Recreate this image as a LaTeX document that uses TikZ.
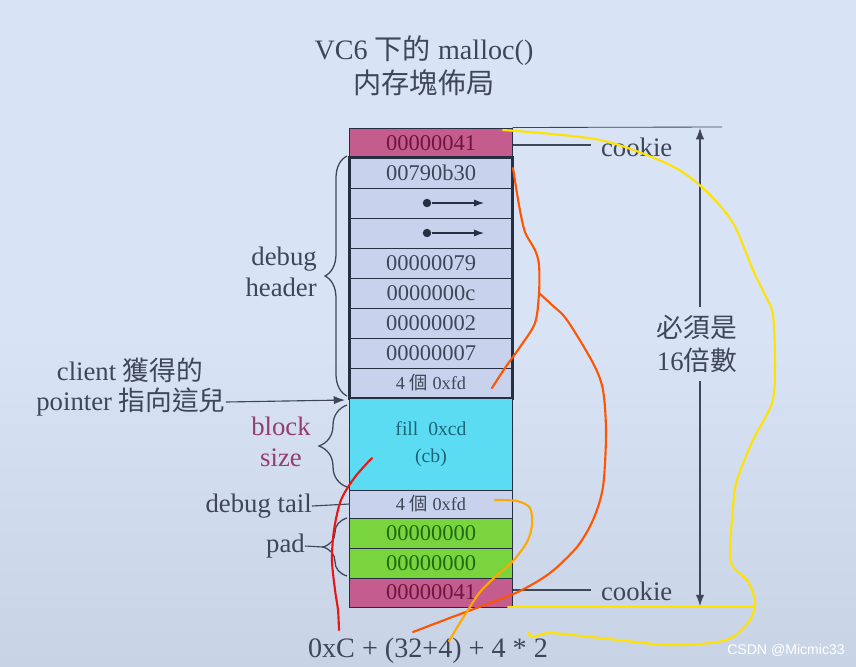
\documentclass[tikz,border=0pt]{standalone}
\usepackage{fontspec}
\setmainfont{Liberation Serif}
\newfontfamily\cjk{Noto Sans CJK TC}
\newfontfamily\wmfont{Liberation Sans}
\usetikzlibrary{positioning, arrows.meta, decorations.pathreplacing, calc}

\definecolor{bgtop}{RGB}{216,228,245}
\definecolor{bgbot}{RGB}{200,212,230}
\definecolor{txtgrey}{RGB}{62,70,88}
\definecolor{cellline}{RGB}{38,46,66}
\definecolor{hdrfill}{RGB}{200,210,236}
\definecolor{cookiefill}{RGB}{196,92,142}
\definecolor{cookietxt}{RGB}{110,22,62}
\definecolor{cyanfill}{RGB}{92,220,242}
\definecolor{cyantxt}{RGB}{30,100,120}
\definecolor{padfill}{RGB}{122,212,62}
\definecolor{padtxt}{RGB}{28,108,22}
\definecolor{blockpink}{RGB}{150,60,110}
\definecolor{penyellow}{RGB}{255,226,0}
\definecolor{penred}{RGB}{232,22,22}
\definecolor{penorange}{RGB}{255,168,0}
\definecolor{penorangered}{RGB}{255,84,0}

\newcommand{\zh}[1]{{\cjk #1}}

\begin{document}
\begin{tikzpicture}[x=0.025cm, y=-0.025cm]
	\tikzset{
		cell/.style={draw=cellline, line width=0.7pt, minimum width=4.05cm, minimum height=0.75cm, inner sep=0pt, text=txtgrey, font=\fontsize{16}{18}\selectfont},
		lbl/.style={text=txtgrey, inner sep=0pt, font=\fontsize{19}{22}\selectfont},
		curly/.style={decorate, decoration={brace, amplitude=#1}, draw=txtgrey, line width=0.9pt},
		guide/.style={draw=txtgrey, line width=0.8pt},
		dot/.style={circle, fill=cellline, inner sep=0pt, minimum size=6pt},
		pen/.style={line width=1.5pt, line cap=round, line join=round}
	}
	% 背景
	\fill[top color=bgtop, bottom color=bgbot, middle color=bgtop] (0,0) rectangle (856,666);
	\useasboundingbox (0,0) rectangle (856,666);

	% 標題
	\node[lbl, font=\fontsize{20}{24}\selectfont, align=center] (title) at (424,66) {VC6 \zh{下的} malloc()\\\zh{内存塊佈局}};

	% 內存塊
	\node[cell, fill=cookiefill, text=cookietxt] (ck1) at (431,143) {00000041};
	\foreach \y/\t/\n in {173/00790b30/h1, 203//h2, 233//h3, 263/00000079/h4, 293/0000000c/h5, 323/00000002/h6, 353/00000007/h7} {
		\node[cell, fill=hdrfill] (\n) at (431,\y) {\t};
	}
	\node[cell, fill=hdrfill, font=\fontsize{13}{15}\selectfont] (h8) at (431,383) {4 \zh{個} 0xfd};
	\draw[cellline, line width=1.6pt] (h1.north west) rectangle (h8.south east);
	\node[cell, fill=cyanfill, text=cyantxt, minimum height=2.3cm, align=center, font=\fontsize{14}{19}\selectfont] (body) at (431,444) {fill\ \ 0xcd\\(cb)};
	\node[cell, fill=hdrfill, minimum height=0.7cm, font=\fontsize{13}{15}\selectfont] (tail) at (431,504) {4 \zh{個} 0xfd};
	\node[cell, fill=padfill, text=padtxt] (pad1) at (431,533) {00000000};
	\node[cell, fill=padfill, text=padtxt] (pad2) at (431,563) {00000000};
	\node[cell, fill=cookiefill, text=cookietxt, minimum height=0.725cm] (ck2) at (431,592.5) {00000041};

	% 指標
	\foreach \n/\y in {2/203, 3/233} {
		\node[dot] (d\n) at (427,\y) {};
		\coordinate (e\n) at (484,\y);
		\draw[cellline, line width=0.8pt, -{Latex[length=7pt, width=5pt]}] (d\n) -- (e\n);
	}

	% 左側
	\node[lbl, align=right, anchor=east] (dbg) at (317,272) {debug\\header};
	\draw[curly=0.55cm] (347,396) -- (347,156);
	\node[lbl] (cl) at (130,370) {client \zh{獲得的}};
	\node[lbl] (ptr) at (131,402) {pointer \zh{指向這兒}};
	\coordinate (ptrtip) at (345,400);
	\draw[guide, -{Latex[length=8pt, width=6pt]}] (ptr.east) -- (ptrtip);
	\node[lbl, text=blockpink, align=center] (bsz) at (281,442) {block\\size};
	\draw[curly=0.7cm] (347,487) -- (347,405);
	\node[lbl, anchor=east] (dtail) at (312,506) {debug tail};
	\draw[guide] (dtail.east) -- (tail.west);
	\node[lbl, anchor=east] (padl) at (305,546) {pad};
	\coordinate (padtip) at (323,547);
	\draw[guide] (padl.east) -- (padtip);
	\draw[curly=0.6cm] (347,576) -- (347,518);

	% 右側
	\node[lbl, anchor=west, inner xsep=7pt] (ckl1) at (591,147) {cookie};
	\draw[guide] (ck1.east |- 0,145) -- (ckl1.west |- 0,145);
	\node[lbl, anchor=west, inner xsep=7pt] (ckl2) at (591,591) {cookie};
	\draw[guide] (ck2.east |- 0,590) -- (ckl2.west |- 0,590);
	\coordinate (topR) at (722,127);
	\coordinate (botR) at (722,607);
	\draw[guide, line width=0.6pt] (ck1.north east) -- (topR);
	\draw[guide, line width=0.6pt] (ck2.south east) -- (botR);
	\node[lbl, align=center, inner ysep=6pt, font=\fontsize{19}{23}\selectfont] (mult) at (697,344) {\zh{必須是}\\16\zh{倍數}};
	\coordinate (dimT) at (700,128);
	\coordinate (dimB) at (700,606);
	\draw[guide, -{Latex[length=8pt, width=6pt]}] (dimT |- mult.north) -- (dimT);
	\draw[guide, -{Latex[length=8pt, width=6pt]}] (dimB |- mult.south) -- (dimB);

	% 算式
	\node[lbl, font=\fontsize{20}{24}\selectfont] (sum) at (428,651) {0xC + (32+4) + 4 * 2};

	% 手繪
	\draw[pen, penyellow] plot[smooth] coordinates {(503,130) (600,140) (670,165) (705,190) (733,223) (753,270) (765,295) (773,315) (775,367) (772,403) (753,440) (737,480) (733,507) (730,553) (733,567) (747,580) (753,593) (755,605) (750,620) (733,637) (710,643) (667,645) (600,638) (550,633) (533,637) (528,632)};
	\draw[pen, penyellow] (508,607) -- (755,607);
	\draw[pen, penorangered] plot[smooth] coordinates {(513,168) (519,205) (525,232) (535,250) (539,265) (539,293) (535,323) (520,347) (505,368) (492,388)};
	\draw[pen, penorangered] plot[smooth] coordinates {(539,293) (552,305) (567,320) (593,363) (603,390) (606,433) (603,487) (593,520) (577,547) (550,573) (520,591) (490,603) (455,616) (413,632)};
	\draw[pen, penorange] plot[smooth] coordinates {(495,500) (517,501) (530,508) (532,525) (527,542) (513,561) (496,576) (480,592) (468,610) (458,626) (449,641)};
	\draw[pen, penred] plot[smooth] coordinates {(372,458) (355,477) (341,500) (334,530) (332,560) (335,590) (338,610) (339,630)};

	% 浮水印
	\node[text=white, font=\wmfont\fontsize{10}{12}\selectfont, inner sep=0pt] (wm) at (786,650) {CSDN @Micmic33};
\end{tikzpicture}
\end{document}
